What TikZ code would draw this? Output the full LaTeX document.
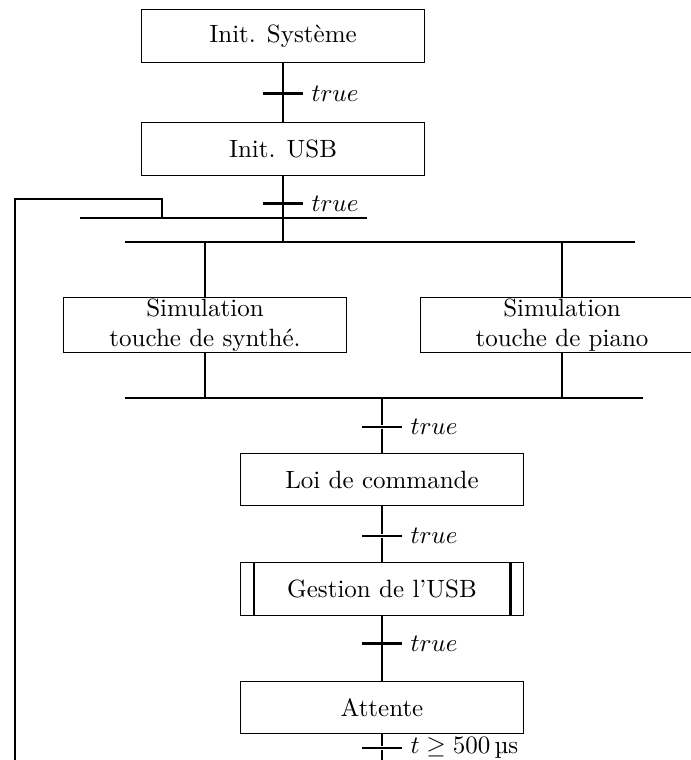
\documentclass[tikz,border=0pt]{standalone}
\usepackage{fontspec}
\usetikzlibrary{positioning, calc}

\begin{document}
\begin{tikzpicture}[
    x=0.4pt, y=-0.4pt,
    lien/.style={
        line width=1pt
    },
    etape/.style={
        rectangle,
        draw,
        thin,
        minimum width=113pt,
        minimum height=21pt,
        inner ysep=0.5pt,
        align=center
    },
    sousprog/.style={
        etape,
        path picture={
            \draw[lien] ([xshift=5.2pt]path picture bounding box.north west) -- ([xshift=5.2pt]path picture bounding box.south west);
            \draw[lien] ([xshift=-5.2pt]path picture bounding box.north east) -- ([xshift=-5.2pt]path picture bounding box.south east);
        }
    },
    trans/.style={
        rectangle,
        fill=black,
        inner sep=0pt,
        minimum width=16pt,
        minimum height=1pt,
        label={[inner sep=3pt]right:#1}
    },
    barre/.style={
        rectangle,
        fill=black,
        inner sep=0pt,
        minimum height=1.1pt,
        minimum width=#1
    }
]
    \useasboundingbox (0,0) rectangle (691,760);
    \clip (0,0) rectangle (691,760);

    % Initialisation
    \node[etape] (sys) at (283,36) {Init. Système};
    \node[trans=$true$, below=11.6pt of sys] (t1) {};
    \node[etape, below=10.8pt of t1] (usb) {Init. USB};
    \node[trans=$true$, below=10.4pt of usb] (t2) {};
    \draw[lien] (sys) -- (t1) -- (usb);

    % Bouclage et divergence
    \node[barre=114.8pt] (b1) at (223.5,218) {};
    \node[barre=204pt] (b2) at (380,242) {};
    \coordinate (coin) at (162,199);
    \coordinate (retour) at (15,760);
    \draw[lien] (usb) -- (t2) -- (usb |- b2);
    \draw[lien] (retour) |- (coin) -- (coin |- b1);

    % Simulations
    \node[etape] (synth) at (205,325) {Simulation\\touche de synthé.};
    \node[etape] (piano) at (562,325) {Simulation\\touche de piano};
    \node[barre=207.2pt] (b3) at (384,398) {};
    \draw[lien] (synth) -- (synth |- b2);
    \draw[lien] (piano) -- (piano |- b2);
    \draw[lien] (synth) -- (synth |- b3);
    \draw[lien] (piano) -- (piano |- b3);

    % Boucle principale
    \node[trans=$true$] (t3) at (382,427) {};
    \node[etape, below=9.6pt of t3] (loi) {Loi de commande};
    \node[trans=$true$, below=11.2pt of loi] (t4) {};
    \node[sousprog, below=9.8pt of t4] (gest) {Gestion de l'USB};
    \node[trans=$true$, below=10.4pt of gest] (t5) {};
    \node[etape, below=14.2pt of t5] (att) {Attente};
    \node[trans={$t \geq 500$\,µs}, below=4.8pt of att] (t6) {};
    \coordinate (fin) at (382,760);
    \draw[lien] (loi |- b3) -- (t3) -- (loi) -- (t4) -- (gest) -- (t5) -- (att) -- (t6) -- (fin);

\end{tikzpicture}
\end{document}
